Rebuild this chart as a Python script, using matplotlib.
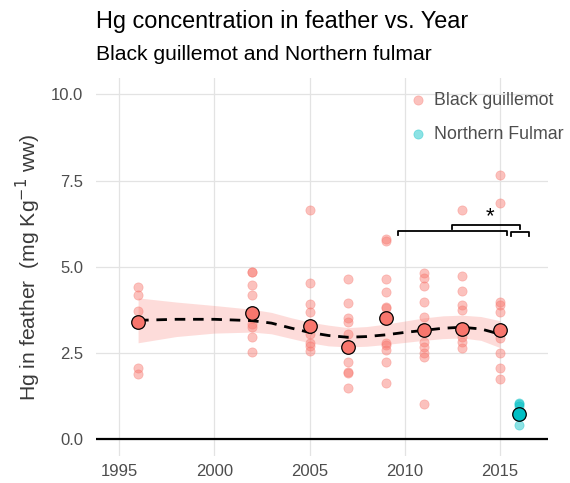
import matplotlib.pyplot as plt
import numpy as np

plt.rcParams['font.family'] = ['Liberation Sans', 'DejaVu Sans']

# Black guillemot feather Hg by sampling year
hg_1996 = [4.43, 4.17, 3.73, 3.45, 2.08, 1.89]
hg_2002 = [4.86, 4.84, 4.46, 4.17, 3.51, 3.34, 3.27, 2.96, 2.52]
hg_2005 = [6.64, 4.53, 3.92, 3.68, 3.05, 2.80, 2.71, 2.57]
hg_2007 = [4.65, 3.94, 3.51, 3.41, 3.05, 2.25, 1.96, 1.91, 1.49]
hg_2009 = [5.81, 5.74, 4.64, 4.28, 3.85, 3.80, 2.80, 2.73, 2.59, 2.25, 1.64]
hg_2011 = [4.82, 4.67, 4.45, 3.99, 3.54, 2.83, 2.68, 2.49, 2.39, 1.04]
hg_2013 = [6.64, 4.74, 4.30, 3.90, 3.75, 2.97, 2.83, 2.64]
hg_2015 = [7.67, 6.85, 3.99, 3.90, 3.70, 2.93, 2.49, 2.08, 1.76]
guil_years = [1996, 2002, 2005, 2007, 2009, 2011, 2013, 2015]
guil_means = [3.41, 3.65, 3.28, 2.68, 3.51, 3.17, 3.20, 3.17]

# Northern fulmar
fulm_year = 2016
hg_fulmar = [1.05, 1.02, 0.96, 0.41]
fulm_mean = 0.75

# smoothed trend (dashed) and its confidence band
smooth_x = [1996, 1998, 2000, 2002, 2003, 2004, 2005, 2006, 2007, 2008,
            2009, 2010, 2011, 2012, 2013, 2014, 2015]
smooth_y = [3.45, 3.48, 3.48, 3.44, 3.37, 3.23, 3.10, 3.01, 2.96, 2.98,
            3.03, 3.10, 3.16, 3.22, 3.25, 3.20, 3.05]
smooth_lo = [2.80, 2.98, 3.08, 3.11, 3.06, 2.93, 2.80, 2.71, 2.68, 2.70,
             2.75, 2.81, 2.87, 2.92, 2.94, 2.87, 2.66]
smooth_hi = [4.10, 3.98, 3.88, 3.77, 3.68, 3.53, 3.40, 3.31, 3.24, 3.27,
             3.34, 3.43, 3.52, 3.58, 3.60, 3.56, 3.44]

# significance brackets: (x start, x end, y)
brackets = [(2009.63, 2015.35, 6.03), (2012.5, 2016.05, 6.22), (2015.6, 2016.54, 6.0)]
star_x, star_y = 2014.5, 6.45

red = '#F8766D'
teal = '#00BFC4'
grey = '#4d4d4d'

fig = plt.figure(figsize=(5.7, 4.83), dpi=100)
ax = fig.add_axes([0.1684, 0.0559, 0.7930, 0.7826])

ax.fill_between(smooth_x, smooth_lo, smooth_hi, color=red, alpha=0.25, lw=0, zorder=2)

guil_lists = [hg_1996, hg_2002, hg_2005, hg_2007, hg_2009, hg_2011, hg_2013, hg_2015]
gx = np.concatenate([[yr] * len(v) for yr, v in zip(guil_years, guil_lists)])
gy = np.concatenate(guil_lists)
ax.scatter(gx, gy, s=44, color=red, alpha=0.45, edgecolor=red, lw=0.5, zorder=3,
           label='Black guillemot')
ax.scatter([fulm_year] * len(hg_fulmar), hg_fulmar, s=44, color=teal, alpha=0.45,
           edgecolor=teal, lw=0.5, zorder=3, label='Northern Fulmar')

ax.plot(smooth_x, smooth_y, color='black', lw=2.0, dashes=(3.8, 2.8), zorder=4)

ax.scatter(guil_years, guil_means, s=95, color=red, edgecolor='black', lw=0.9, zorder=5)
ax.scatter([fulm_year], [fulm_mean], s=95, color=teal, edgecolor='black', lw=0.9, zorder=5)

ax.axhline(0, color='black', lw=1.6, zorder=4)

tip = 0.12
for x0, x1, y in brackets:
    ax.plot([x0, x0, x1, x1], [y - tip, y, y, y - tip], color='black', lw=1.3, zorder=4)
ax.text(star_x, star_y, '*', ha='center', va='center', fontsize=16)

ax.set_xlim(1993.79, 2017.52)
ax.set_ylim(-0.48, 10.47)
ax.set_xticks([1995, 2000, 2005, 2010, 2015])
ax.set_yticks([0, 2.5, 5, 7.5, 10])
ax.set_yticklabels(['0.0', '2.5', '5.0', '7.5', '10.0'])
ax.grid(True, color='#e3e3e3', lw=0.9)
ax.set_axisbelow(True)
for s in ax.spines.values():
    s.set_visible(False)
ax.tick_params(length=0, labelsize=12, labelcolor=grey)
ax.tick_params(axis='y', pad=9)
ax.tick_params(axis='x', pad=6)
ax.set_ylabel('Hg in feather  (mg Kg$^{-1}$ ww)', fontsize=15.2, color='#3a3a3a', labelpad=6)

leg = ax.legend(loc='upper left', bbox_to_anchor=(0.637, 1.005), frameon=False,
                fontsize=12.8, handletextpad=-0.1, labelspacing=0.95,
                markerscale=1.0, scatterpoints=1)
for t in leg.get_texts():
    t.set_color(grey)

fig.text(0.168, 0.955, 'Hg concentration in feather vs. Year', fontsize=16.9, va='center')
fig.text(0.168, 0.887, 'Black guillemot and Northern fulmar', fontsize=15.2, va='center')

fig.savefig('out.png', dpi=100)
